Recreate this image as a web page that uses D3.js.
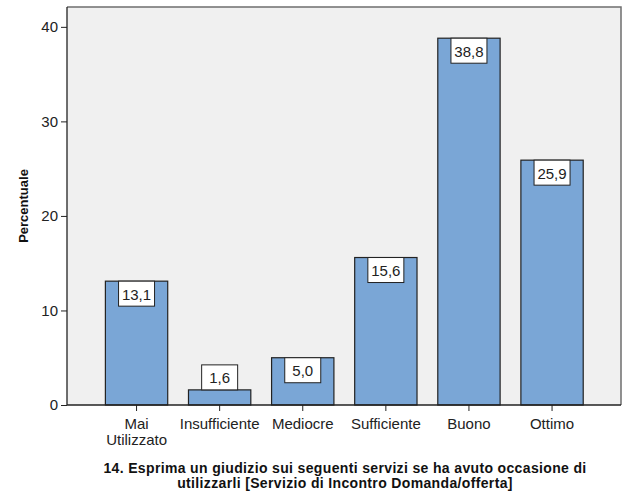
<!DOCTYPE html>
<html><head><meta charset="utf-8">
<script src="https://cdn.jsdelivr.net/npm/d3@7"></script>
<style>body{margin:0;background:#fff}svg{display:block}text{font-family:"Liberation Sans",Arial,sans-serif}</style>
</head><body>
<svg id="c" width="629" height="504"></svg>
<script>
const categories = [["Mai","Utilizzato"],["Insufficiente"],["Mediocre"],["Sufficiente"],["Buono"],["Ottimo"]];
const values = [13.1, 1.6, 5.0, 15.6, 38.8, 25.9];
const valueLabels = ["13,1","1,6","5,0","15,6","38,8","25,9"];
const yTicks = [0, 10, 20, 30, 40];
const yTitle = "Percentuale";
const xTitle = ["14. Esprima un giudizio sui seguenti servizi se ha avuto occasione di","utilizzarli [Servizio di Incontro Domanda/offerta]"];

const svg = d3.select("#c");
const L = 67, R = 621, T = 7, B = 405;
const y = d3.scaleLinear().domain([0, 42.1]).range([B, T]);
const x = d3.scaleBand().domain(d3.range(values.length)).range([95, 593.6]).padding(0);
const bw = x.bandwidth() * 0.75;

svg.append("rect").attr("x", L).attr("y", T).attr("width", R - L).attr("height", B - T)
  .attr("fill", "#f0f0f0").attr("stroke", "none");
svg.append("path").attr("d", `M${L},${T}H${R}V${B}`).attr("fill","none").attr("stroke","#6e6e6e").attr("stroke-width",1.5);

const bars = svg.append("g");
values.forEach((v, i) => {
  const cx = x(i) + x.bandwidth() / 2;
  bars.append("rect").attr("x", cx - bw / 2).attr("y", y(v)).attr("width", bw).attr("height", B - y(v))
    .attr("fill", "#7aa6d6").attr("stroke", "#222").attr("stroke-width", 1.2);
});

// y axis
const ya = svg.append("g").attr("transform", `translate(${L},0)`)
  .call(d3.axisLeft(y).tickValues(yTicks).tickSize(6).tickPadding(3).tickFormat(d3.format("d")));
ya.select(".domain").attr("stroke", "#222").attr("stroke-width", 1.3).attr("d", `M0,${T}V${B}`);
ya.selectAll(".tick line").attr("stroke", "#222");
ya.selectAll(".tick text").attr("font-size", 15).attr("fill", "#222").attr("font-family", '"Liberation Sans",Arial,sans-serif');

// x axis
const xa = svg.append("g").attr("transform", `translate(0,${B})`)
  .call(d3.axisBottom(x).tickSize(6).tickFormat(""));
xa.select(".domain").attr("stroke", "#222").attr("stroke-width", 1.5).attr("d", `M${L},0H${R}`);
xa.selectAll(".tick line").attr("stroke", "#222");
xa.selectAll(".tick").each(function(d) {
  const t = d3.select(this).append("text").attr("fill", "#222").attr("font-size", 15)
    .attr("text-anchor", "middle").attr("y", 24);
  categories[d].forEach((s, j) => t.append("tspan").attr("x", 0).attr("dy", j ? 16 : 0).text(s));
});

// value labels
values.forEach((v, i) => {
  const cx = x(i) + x.bandwidth() / 2;
  const bh = 25, bwid = 36;
  const top = (B - y(v)) > bh + 2 ? y(v) : y(v) - bh;
  svg.append("rect").attr("x", cx - bwid / 2).attr("y", top).attr("width", bwid).attr("height", bh)
    .attr("fill", "#fff").attr("stroke", "#222").attr("stroke-width", 1);
  svg.append("text").attr("x", cx).attr("y", top + 18.5).attr("text-anchor", "middle")
    .attr("font-size", 15).attr("fill", "#222").text(valueLabels[i]);
});

svg.append("text").attr("transform", "translate(28,206) rotate(-90)").attr("text-anchor", "middle")
  .attr("font-weight", "bold").attr("font-size", 13).attr("fill", "#111").text(yTitle);

xTitle.forEach((s, j) => svg.append("text").attr("x", 345).attr("y", 473 + j * 14.5).attr("text-anchor", "middle")
  .attr("font-weight", "bold").attr("font-size", 14).attr("letter-spacing", 0.35).attr("fill", "#111").text(s));
</script>
</body></html>
